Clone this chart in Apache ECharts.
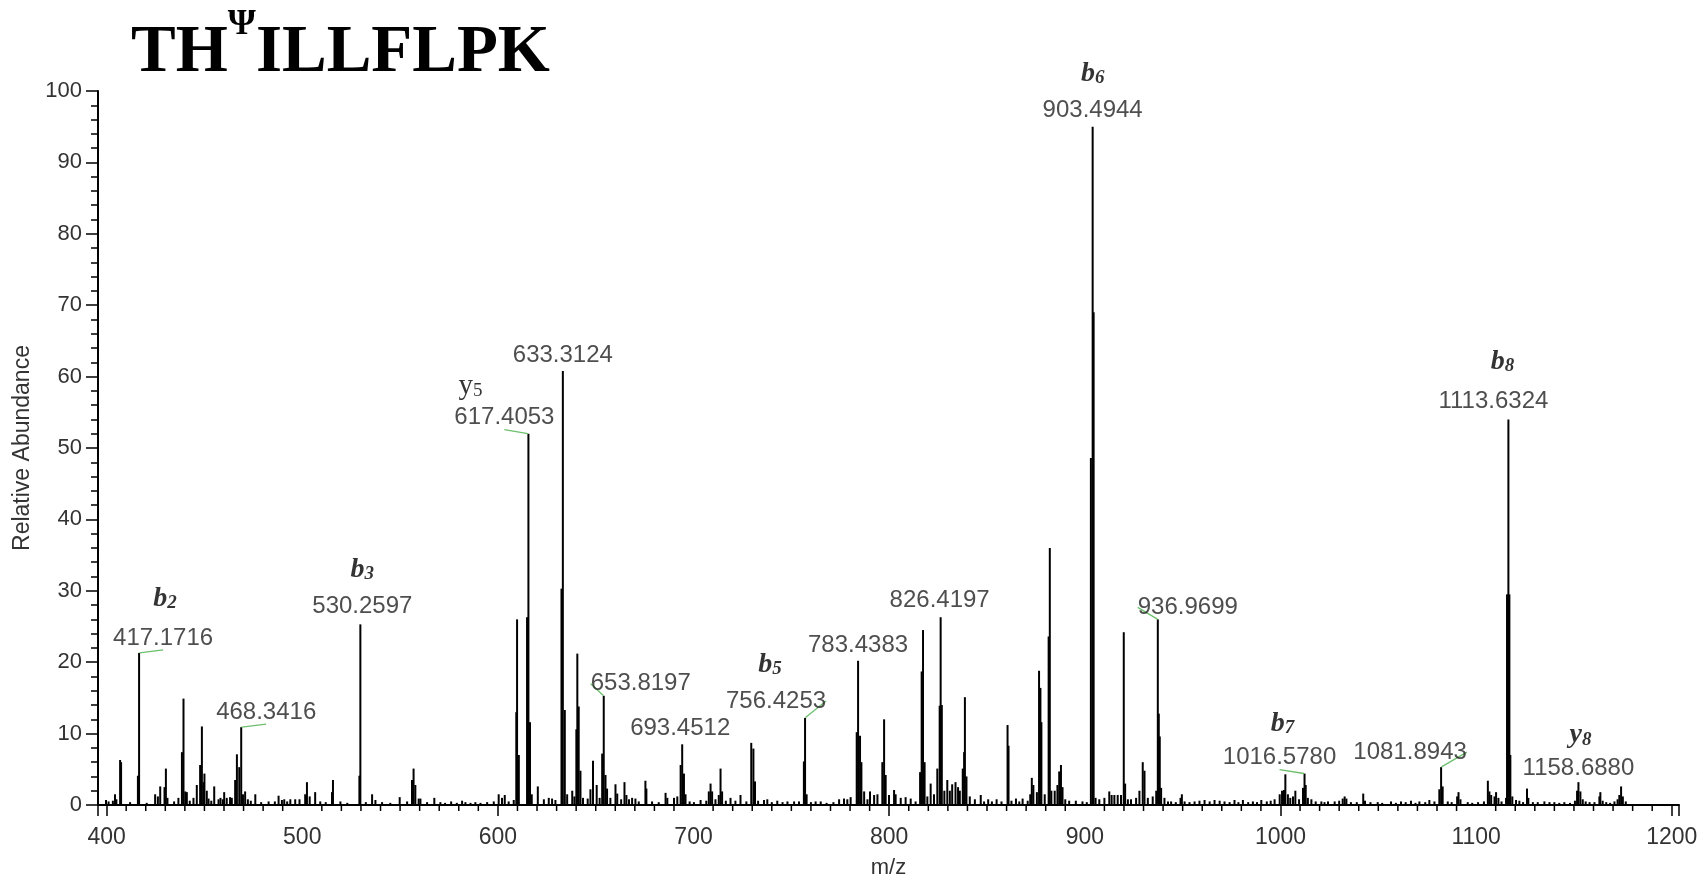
<!DOCTYPE html>
<html>
<head>
<meta charset="utf-8">
<title>TH&Psi;ILLFLPK spectrum</title>
<script src="https://cdn.jsdelivr.net/npm/echarts@6/dist/echarts.min.js"></script>
<style>
  html, body { margin: 0; padding: 0; background: #fff; }
  #chart { width: 1703px; height: 884px; }
</style>
</head>
<body>
<div id="chart"></div>
<script>
// spectrum sticks (m/z, relative abundance)
var peakMz = [
  399.7, 401.0, 403.2, 404.3, 405.0, 406.9, 407.4, 412.0, 416.0, 416.6,
  420.5, 424.8, 426.2, 427.4, 429.6, 430.3, 431.1, 434.5, 436.7, 438.5,
  439.3, 440.2, 441.0, 442.5, 444.4, 446.1, 447.8, 448.7, 449.5, 450.0,
  451.2, 452.1, 453.5, 455.0, 457.2, 458.2, 459.4, 460.1, 461.4, 463.1,
  464.0, 465.7, 466.6, 467.8, 468.8, 469.7, 470.8, 472.2, 473.7, 476.0,
  479.0, 482.8, 486.0, 487.9, 489.6, 490.8, 492.3, 493.9, 496.4, 498.6,
  501.5, 502.4, 503.8, 506.6, 509.2, 512.0, 515.2, 515.7, 519.5, 523.0,
  529.2, 529.7, 532.5, 535.7, 537.4, 540.8, 545.0, 549.8, 553.6, 556.1,
  556.9, 557.8, 559.5, 560.4, 563.8, 567.5, 570.6, 573.0, 576.1, 579.0,
  581.7, 583.4, 586.0, 588.5, 591.1, 594.5, 597.9, 600.4, 602.1, 603.5,
  605.5, 608.1, 609.4, 609.8, 610.7, 614.9, 615.6, 616.4, 617.3, 620.4,
  623.5, 626.0, 627.7, 629.4, 632.5, 633.2, 634.2, 635.4, 638.0, 639.1,
  640.1, 640.6, 641.3, 642.2, 643.5, 645.9, 647.3, 648.6, 650.5, 652.0,
  653.3, 654.1, 655.0, 655.8, 657.5, 660.1, 661.0, 663.0, 664.7, 665.7,
  667.0, 668.6, 670.3, 672.0, 675.4, 675.9, 678.8, 682.2, 685.7, 686.6,
  690.0, 691.7, 693.4, 694.2, 695.1, 695.9, 698.0, 700.2, 703.6, 706.5,
  707.8, 708.7, 709.5, 711.2, 712.9, 713.8, 714.6, 716.5, 718.9, 721.4,
  724.0, 727.0, 729.5, 730.6, 731.4, 733.0, 736.0, 737.7, 740.0, 742.8,
  745.5, 748.0, 751.4, 753.9, 756.4, 757.0, 757.8, 760.0, 762.4, 765.0,
  768.0, 771.5, 774.4, 776.9, 778.6, 780.3, 783.4, 784.1, 785.1, 785.8,
  787.2, 788.9, 790.2, 792.3, 794.0, 796.5, 797.4, 798.2, 799.9, 802.5,
  803.3, 805.9, 808.4, 811.0, 813.5, 815.8, 816.6, 817.3, 818.1, 819.5,
  821.2, 822.9, 824.6, 825.8, 826.3, 826.9, 828.2, 829.7, 831.0, 832.2,
  833.9, 835.2, 836.1, 837.6, 838.3, 838.7, 839.5, 841.2, 843.8, 846.8,
  848.5, 850.6, 852.5, 854.9, 857.4, 860.5, 861.0, 862.5, 864.8, 866.5,
  868.2, 870.8, 872.1, 872.9, 873.7, 875.5, 876.6, 877.3, 877.8, 879.5,
  881.5, 882.1, 882.9, 884.6, 886.0, 886.9, 887.8, 888.6, 890.0, 892.0,
  895.4, 898.8, 901.0, 903.1, 904.0, 904.5, 905.5, 907.4, 910.0, 912.5,
  913.7, 915.1, 916.8, 918.5, 919.9, 920.6, 922.0, 923.6, 926.2, 927.9,
  929.6, 930.5, 932.2, 934.7, 936.5, 937.3, 937.8, 938.3, 939.0, 940.7,
  942.5, 944.1, 946.5, 948.9, 949.6, 951.0, 953.5, 956.1, 958.6, 961.2,
  963.8, 966.3, 968.9, 971.4, 974.0, 976.5, 978.5, 980.8, 983.5, 985.9,
  988.0, 990.2, 993.0, 995.0, 997.0, 999.6, 1000.8, 1001.8, 1002.5, 1003.8,
  1005.0, 1006.4, 1007.6, 1009.5, 1011.5, 1012.3, 1012.9, 1014.0, 1015.8, 1018.0,
  1020.9, 1022.5, 1024.3, 1027.7, 1030.0, 1031.8, 1032.8, 1033.7, 1036.0, 1039.0,
  1042.3, 1043.2, 1046.0, 1049.7, 1052.0, 1056.5, 1059.0, 1061.6, 1064.0, 1066.7,
  1069.0, 1071.0, 1074.0, 1076.1, 1078.7, 1081.2, 1082.1, 1082.9, 1085.5, 1087.5,
  1090.3, 1091.0, 1092.0, 1095.7, 1098.0, 1101.0, 1104.0, 1106.0, 1106.8, 1107.7,
  1109.4, 1110.2, 1111.4, 1113.0, 1115.3, 1115.8, 1116.5, 1117.0, 1117.5, 1118.5,
  1120.4, 1122.1, 1124.0, 1126.0, 1126.7, 1129.0, 1131.5, 1134.9, 1137.5, 1140.0,
  1142.5, 1145.1, 1148.0, 1150.5, 1151.6, 1152.3, 1153.3, 1154.5, 1156.0, 1158.0,
  1160.5, 1163.0, 1163.5, 1164.7, 1166.5, 1168.5, 1170.7, 1172.3, 1173.2, 1174.1,
  1175.0, 1176.5
]
var peakInt = [
  0.7, 0.5, 0.6, 1.5, 0.8, 6.3, 6.0, 0.4, 4.1, 21.3,
  0.3, 1.5, 1.2, 2.6, 2.5, 5.1, 1.0, 0.5, 1.0, 7.4,
  14.9, 1.9, 1.8, 0.6, 1.0, 2.8, 5.6, 11.0, 3.2, 4.4,
  2.0, 0.9, 0.6, 2.6, 0.8, 1.0, 0.8, 1.8, 1.0, 1.1,
  1.0, 3.5, 7.1, 5.3, 10.9, 1.5, 1.9, 0.8, 0.6, 1.5,
  0.4, 0.5, 0.5, 1.3, 0.7, 0.8, 0.5, 0.8, 0.8, 0.8,
  1.5, 3.2, 1.2, 1.8, 0.5, 0.4, 1.8, 3.5, 0.5, 0.3,
  4.1, 25.3, 0.4, 1.5, 0.7, 0.4, 0.3, 1.1, 0.5, 3.5,
  5.1, 2.8, 0.9, 0.9, 0.4, 1.0, 0.4, 0.3, 0.5, 0.3,
  0.6, 0.4, 0.3, 0.4, 0.3, 0.4, 0.5, 1.5, 1.0, 1.4,
  0.5, 0.7, 13.0, 26.0, 7.0, 26.3, 52.0, 11.6, 1.5, 2.6,
  0.8, 1.0, 0.9, 0.7, 30.3, 60.8, 13.3, 1.5, 2.0, 1.2,
  10.6, 21.2, 13.8, 4.8, 1.0, 0.9, 2.2, 6.2, 2.8, 1.0,
  7.2, 15.3, 4.2, 2.3, 1.0, 2.9, 1.6, 0.8, 3.2, 1.4,
  0.8, 1.0, 0.9, 0.5, 3.4, 2.3, 0.5, 0.4, 1.7, 1.0,
  1.0, 1.2, 5.6, 8.5, 4.4, 1.5, 0.5, 0.4, 0.7, 0.6,
  1.9, 3.0, 1.9, 0.8, 1.4, 5.1, 1.9, 0.6, 1.0, 0.6,
  1.4, 0.5, 8.7, 7.9, 3.3, 0.6, 0.7, 0.8, 0.4, 0.6,
  0.4, 0.5, 0.5, 0.5, 6.1, 12.2, 1.5, 0.4, 0.5, 0.5,
  0.3, 0.4, 0.8, 0.9, 0.8, 1.1, 10.2, 20.2, 9.7, 6.0,
  1.9, 0.8, 1.9, 1.4, 1.5, 6.0, 12.0, 4.2, 1.4, 2.1,
  1.5, 1.0, 1.1, 0.9, 0.5, 4.6, 18.7, 24.5, 6.0, 1.2,
  3.0, 1.5, 5.1, 13.9, 26.3, 14.0, 2.0, 3.5, 2.0, 2.9,
  3.2, 2.5, 2.0, 5.1, 7.4, 15.1, 4.0, 1.2, 0.8, 1.4,
  0.5, 0.8, 0.5, 0.8, 0.5, 11.2, 8.3, 0.6, 0.9, 0.5,
  0.9, 0.6, 1.5, 3.8, 2.8, 1.8, 18.8, 16.4, 11.6, 1.5,
  23.6, 36.0, 2.0, 2.0, 2.8, 4.7, 5.6, 2.5, 0.8, 0.6,
  0.6, 0.5, 0.4, 48.6, 95.0, 69.0, 1.0, 0.8, 1.0, 1.9,
  1.4, 1.4, 1.4, 1.4, 24.2, 3.0, 0.8, 0.8, 1.0, 2.0,
  6.0, 4.8, 1.0, 1.2, 2.0, 26.0, 12.8, 9.6, 2.4, 1.0,
  0.5, 0.5, 0.4, 1.0, 1.5, 0.5, 0.4, 0.5, 0.6, 0.7,
  0.5, 0.7, 0.6, 0.5, 0.4, 0.7, 0.4, 0.7, 0.4, 0.5,
  0.4, 0.7, 0.5, 0.6, 0.8, 1.5, 2.0, 2.1, 4.3, 1.5,
  1.0, 1.2, 2.0, 0.8, 2.4, 4.4, 2.8, 1.0, 0.8, 0.5,
  0.5, 0.4, 0.5, 0.5, 0.6, 0.9, 1.2, 0.9, 0.4, 0.4,
  1.6, 0.6, 0.4, 0.4, 0.3, 0.5, 0.3, 0.5, 0.4, 0.6,
  0.3, 0.5, 0.4, 0.7, 0.5, 2.2, 5.3, 2.6, 0.5, 0.4,
  1.2, 1.8, 0.8, 0.4, 0.3, 0.4, 0.5, 3.4, 1.9, 1.4,
  1.2, 1.8, 1.0, 0.5, 1.0, 29.5, 54.0, 29.5, 7.0, 1.2,
  0.7, 0.6, 0.4, 2.3, 1.0, 0.4, 0.4, 0.5, 0.4, 0.4,
  0.3, 0.4, 0.3, 0.6, 2.0, 3.2, 1.9, 0.8, 0.5, 0.4,
  0.4, 1.2, 1.8, 0.6, 0.4, 0.3, 0.5, 0.8, 1.4, 2.6,
  1.2, 0.5
]

// annotated peaks (where the stick is drawn) and their printed m/z
var labelMz = [416.6, 468.8, 529.7, 615.6, 633.2, 654.1, 694.2, 757.0, 784.1, 826.3, 904.0, 937.3, 1012.3, 1082.1, 1116.5, 1152.3]
var labelInt = [21.3, 10.9, 25.3, 52.0, 60.8, 15.3, 8.5, 12.2, 20.2, 26.3, 95.0, 26.0, 4.4, 5.3, 54.0, 3.2]
var labelText = ['417.1716', '468.3416', '530.2597', '617.4053', '633.3124', '653.8197', '693.4512', '756.4253',
  '783.4383', '826.4197', '903.4944', '936.9699', '1016.5780', '1081.8943', '1113.6324', '1158.6880']
var labelLeader = [1, 1, 0, 1, 0, 1, 0, 1, 0, 0, 0, 1, 1, 1, 0, 0]

// fragment ions: letter, number, which annotated peak they sit on
var ionLetter = ['b', 'b', 'y', 'b', 'b', 'b', 'b', 'y']
var ionNumber = ['2', '3', '5', '5', '6', '7', '8', '8']
var ionPeak = [0, 2, 3, 7, 10, 12, 14, 15]

var xMajor = [400, 500, 600, 700, 800, 900, 1000, 1100, 1200]

// label placement relative to the stick top, px
var labelShift = [[24, -15], [25, -15], [2, -18], [-24, -16], [0, -16], [37, -12], [-2, -16], [-29, -17],
  [0, -15], [-1, -17], [0, -16], [30, -12], [-25, -16], [-31, -15], [-15, -18], [0, -14]]
var ionShift = [[26, -55], [2, -56], [-58, -48], [-35, -54], [0, -54], [-22, -51], [-6, -59], [2, -48]]

// short ticks every 10 m/z between the labelled hundreds
var xMinor = []
for (var v = 410; v < 1200; v += 10) {
  if (v % 100 !== 0) xMinor.push(v)
}

var X_MIN = 395.6
var X_MAX = 1203.7
var SANS = 'Liberation Sans, Arial, sans-serif'
var SERIF = 'Liberation Serif, Times New Roman, serif'

var chart = echarts.init(document.getElementById('chart'), null, { renderer: 'canvas' })

var barData = peakMz.map(function(m, i) { return [m, peakInt[i]] })

var massData = labelMz.map(function(m, i) {
  return {
    value: [m, labelInt[i]],
    label: { formatter: labelText[i] },
    labelLine: { show: labelLeader[i] === 1 }
  }
})

var ionData = ionPeak.map(function(p, i) {
  var regular = ionLetter[i] === 'y' && ionNumber[i] === '5'
  var txt = regular
    ? '{r|' + ionLetter[i] + '}{rs|' + ionNumber[i] + '}'
    : '{b|' + ionLetter[i] + '}{bs|' + ionNumber[i] + '}'
  return {
    value: [labelMz[p], labelInt[p]],
    label: { formatter: txt, offset: ionShift[i] }
  }
})

chart.setOption({
  animation: false,
  backgroundColor: '#fff',
  title: {
    text: '{m|TH}{p|Ψ}{m|ILLFLPK}',
    left: 131,
    top: 7,
    padding: 0,
    textStyle: {
      rich: {
        m: {
          fontFamily: SERIF,
          fontWeight: 'bold',
          fontSize: 67,
          lineHeight: 80,
          verticalAlign: 'bottom',
          color: '#000'
        },
        p: {
          fontFamily: SERIF,
          fontSize: 36,
          lineHeight: 42,
          verticalAlign: 'top',
          color: '#000'
        }
      }
    }
  },
  grid: {
    left: 98,
    right: 24,
    top: 91,
    bottom: 75
  },
  xAxis: {
    type: 'value',
    min: X_MIN,
    max: X_MAX,
    name: 'm/z',
    nameLocation: 'middle',
    nameGap: 52,
    nameTextStyle: { fontFamily: SANS, fontSize: 22, color: '#333' },
    axisLine: { show: true, onZero: false, lineStyle: { color: '#000', width: 2 } },
    axisTick: { show: true, length: 11, lineStyle: { color: '#000', width: 1.5 } },
    axisLabel: {
      customValues: xMajor,
      formatter: function(val) { return String(val) },
      fontFamily: SANS,
      fontSize: 23,
      color: '#333',
      margin: 21
    },
    splitLine: { show: false }
  },
  yAxis: {
    type: 'value',
    min: 0,
    max: 100,
    interval: 10,
    name: 'Relative Abundance',
    nameLocation: 'middle',
    nameGap: 57,
    nameTextStyle: { fontFamily: SANS, fontSize: 23, color: '#333' },
    axisLine: { show: true, lineStyle: { color: '#000', width: 2 } },
    axisTick: { show: true, length: 12, lineStyle: { color: '#000', width: 1.5 } },
    minorTick: { show: true, splitNumber: 5, length: 7, lineStyle: { color: '#000', width: 1.5 } },
    axisLabel: { fontFamily: SANS, fontSize: 22, color: '#333', margin: 16 },
    splitLine: { show: false }
  },
  series: [{
    name: 'spectrum',
    type: 'bar',
    data: barData,
    barWidth: 2,
    itemStyle: { color: '#000' },
    silent: true
  }, {
    // minor ticks of the m/z axis
    name: 'minor ticks',
    type: 'custom',
    data: xMinor,
    clip: false,
    silent: true,
    renderItem: function(params, api) {
      var p = api.coord([api.value(0), 0])
      return {
        type: 'line',
        shape: { x1: p[0], y1: p[1], x2: p[0], y2: p[1] + 6 },
        style: { stroke: '#000', lineWidth: 1.5 }
      }
    },
    encode: { x: 0 }
  }, {
    name: 'mz labels',
    type: 'scatter',
    data: massData,
    symbolSize: 1,
    itemStyle: { color: 'transparent' },
    label: {
      show: true,
      position: 'inside',
      fontFamily: SANS,
      fontSize: 24,
      lineHeight: 24,
      color: '#222'
    },
    labelLine: {
      show: false,
      lineStyle: { color: '#6cbf6c', width: 1.3 }
    },
    labelLayout: function(params) {
      var s = labelShift[params.dataIndex]
      return { dx: s[0], dy: s[1] }
    },
    z: 5
  }, {
    name: 'ion labels',
    type: 'scatter',
    data: ionData,
    symbolSize: 1,
    itemStyle: { color: 'transparent' },
    label: {
      show: true,
      position: 'inside',
      rich: {
        b: { fontFamily: SERIF, fontStyle: 'italic', fontWeight: 'bold', fontSize: 28, lineHeight: 30, verticalAlign: 'bottom', color: '#000' },
        bs: { fontFamily: SERIF, fontStyle: 'italic', fontWeight: 'bold', fontSize: 19, lineHeight: 17, verticalAlign: 'bottom', color: '#000' },
        r: { fontFamily: SERIF, fontSize: 29, lineHeight: 30, verticalAlign: 'bottom', color: '#000' },
        rs: { fontFamily: SERIF, fontSize: 19, lineHeight: 17, verticalAlign: 'bottom', color: '#000' }
      }
    },
    z: 5
  }]
})
</script>
</body>
</html>
